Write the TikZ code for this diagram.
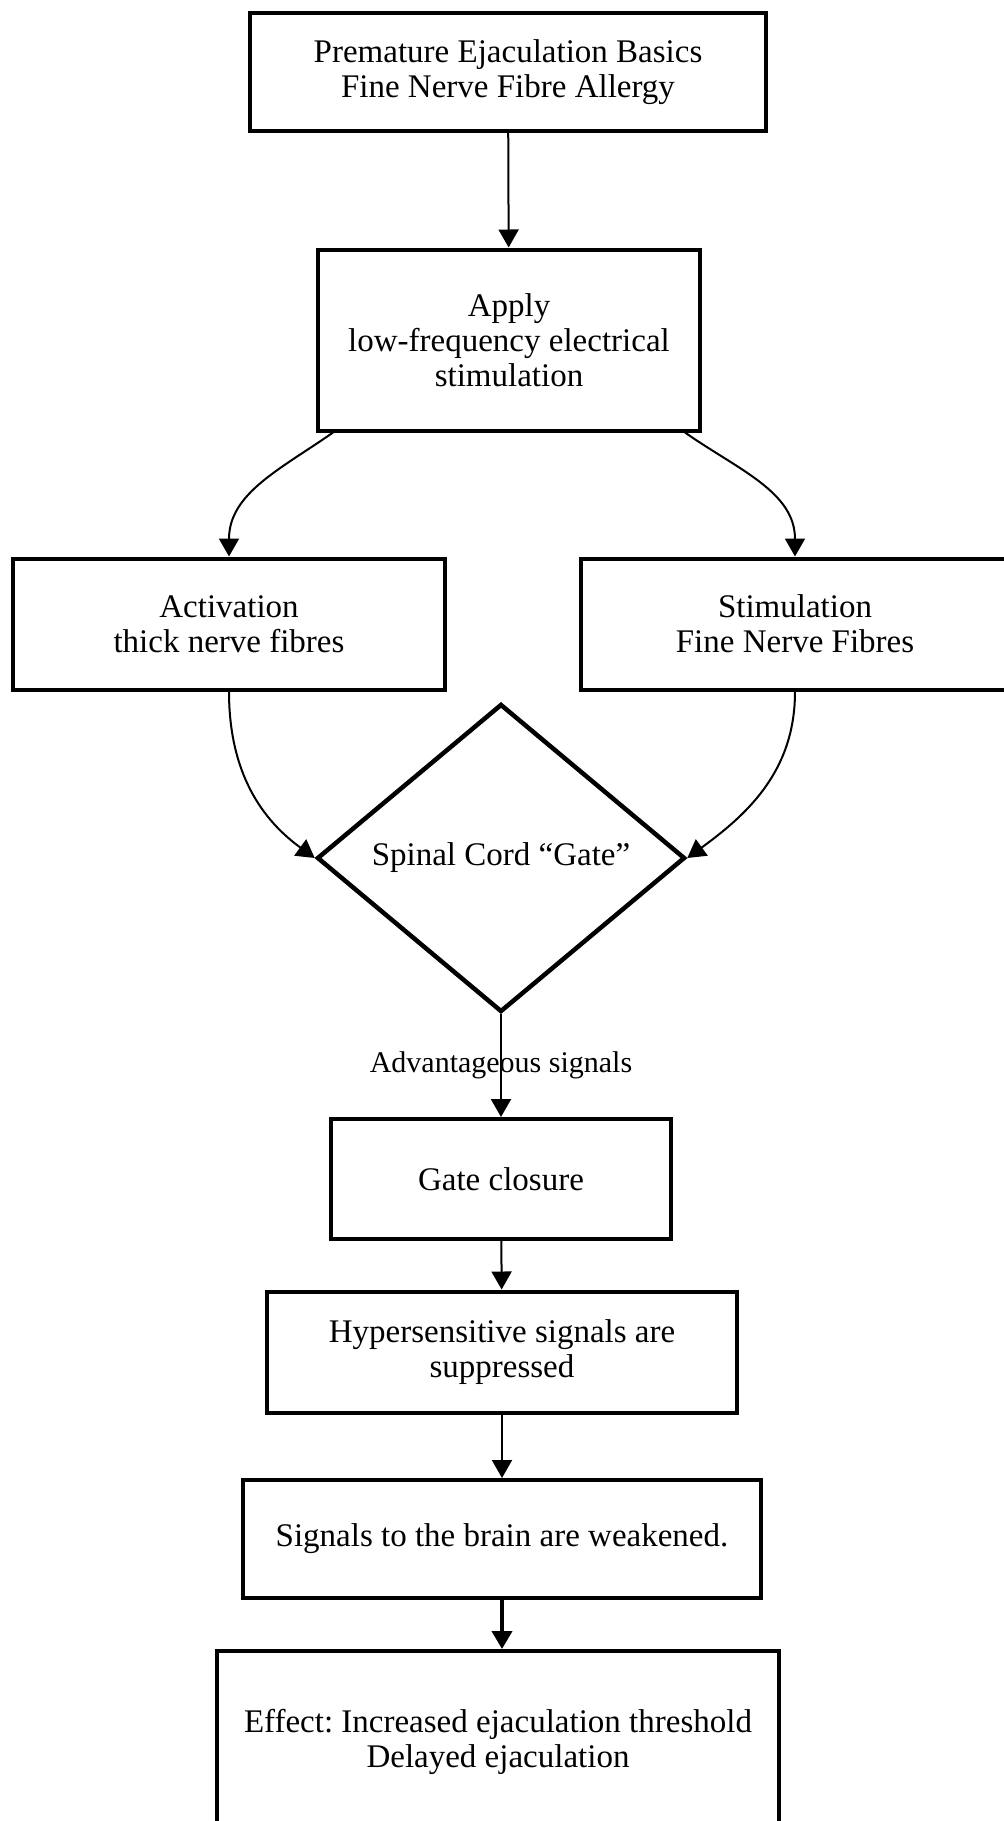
\documentclass[tikz,border=0pt]{standalone}
\usepackage{fontspec}
\setmainfont{Liberation Serif}
\usetikzlibrary{arrows.meta,shapes.geometric}
\frenchspacing

\tikzset{
  box/.style={draw,line width=4pt,align=center,inner sep=0pt,font=\fontsize{33}{35}\selectfont},
  gatebox/.style={draw,diamond,aspect=1.19,line width=4.5pt,inner sep=0pt,font=\fontsize{33}{35}\selectfont},
  link/.style={line width=2pt,-{Triangle[length=18pt,width=20pt]}},
}

\begin{document}
\begin{tikzpicture}[x=1pt,y=1pt]
\useasboundingbox (0,0) rectangle (1004,-1821);
\node[box,minimum width=516pt,minimum height=118pt] (basics) at (508,-72) {Premature Ejaculation Basics\\Fine Nerve Fibre Allergy};
\node[box,minimum width=382pt,minimum height=181pt] (apply) at (509,-340) {Apply\\low-frequency electrical\\stimulation};
\node[box,minimum width=432pt,minimum height=131pt] (thick) at (229,-624) {Activation\\thick nerve fibres};
\node[box,minimum width=429pt,minimum height=131pt] (fine) at (795,-624) {Stimulation\\Fine Nerve Fibres};
\node[gatebox,minimum width=368pt,minimum height=308pt] (gate) at (501,-858) {Spinal Cord “Gate”};
\node[box,minimum width=340pt,minimum height=120pt] (closure) at (501,-1179) {Gate closure};
\node[box,minimum width=470pt,minimum height=121pt] (hyper) at (502,-1352) {Hypersensitive signals are\\suppressed};
\node[box,minimum width=518pt,minimum height=118pt] (weak) at (502,-1539) {Signals to the brain are weakened.};
\node[box,minimum width=562pt,minimum height=182pt] (effect) at (498,-1742) {Effect: Increased ejaculation threshold\\Delayed ejaculation};

\draw[link] (basics) -- (apply);
\draw[link] ([xshift=17pt]apply.south west) to[out=-145,in=90] (thick.north);
\draw[link] ([xshift=-17pt]apply.south east) to[out=-35,in=90] (fine.north);
\draw[link] (thick.south) to[out=-90,in=144] (gate.west);
\draw[link] (fine.south) to[out=-90,in=36] (gate.east);
\draw[link] (gate.south) -- node[font=\fontsize{30}{32}\selectfont] (advsig) {Advantageous signals} (closure.north);
\draw[link] (closure) -- (hyper);
\draw[link] (hyper) -- (weak);
\draw[link,line width=4pt] (weak.south) -- (weak.south |- effect.north);
\end{tikzpicture}
\end{document}
